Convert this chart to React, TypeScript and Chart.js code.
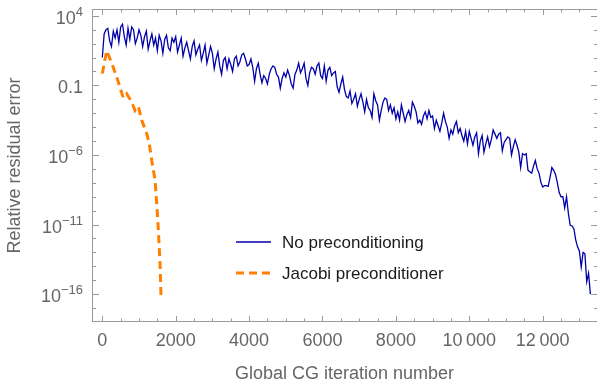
import React, { useEffect, useRef } from 'react';
import { Chart, registerables } from 'chart.js';

Chart.register(...registerables);

// ---------- data ----------
const ITER_STEP = 50; // iterations between stored samples of the unpreconditioned run

// log10 of relative residual error, no preconditioning (iterations 0, 50, 100, ... 13300)
const noPrecondLog10 = [
  1.0, 2.7, 3.0, 3.1, 2.2, 1.8, 2.9, 2.4, 3.0, 2.1, 3.2, 3.4, 2.5, 1.9, 3.1, 2.3, 3.2, 3.0, 2.0, 2.4,
  3.0, 2.6, 1.8, 2.5, 2.9, 1.6, 2.2, 2.7, 1.9, 2.4, 1.5, 2.6, 2.2, 1.3, 2.3, 2.6, 1.7, 1.5, 2.4, 2.1,
  2.5, 1.4, 1.9, 2.4, 1.1, 1.7, 2.1, 1.5, 0.9, 1.8, 2.2, 1.2, 1.6, 1.9, 0.8, 1.3, 1.9, 0.6, 1.2, 1.8,
  1.3, 0.2, 0.9, 1.4, 0.4, -0.2, 0.8, 1.0, 0.2, 0.9, 0.5, 0.0, 0.9, 1.1, 0.4, 0.7, 1.2, 1.3, 0.9, 0.4,
  0.5, 0.9, 0.3, -0.7, 0.2, 0.6, -0.2, -0.8, -0.3, -0.5, -0.9, -0.2, 0.2, 0.4, 0.3, -0.2, -0.4, -1.2, -0.5, -0.1,
  -0.4, 0.1, -0.3, -0.9, -1.2, -0.2, 0.1, 0.6, -0.1, 0.2, 0.6, -0.5, -1.0, -0.1, 0.3, 0.2, -0.2, 0.4, 0.6, -0.3,
  -0.5, 0.4, -0.7, 0.1, 0.3, -0.3, -0.1, 0.0, -1.1, -1.5, -0.9, -0.4, -1.3, -1.8, -1.9, -1.4, -2.3, -2.0, -1.6, -2.5,
  -2.0, -1.6, -2.2, -2.9, -2.0, -2.6, -2.8, -3.3, -1.6, -2.1, -2.4, -3.5, -2.8, -2.2, -1.9, -2.0, -2.8, -2.4, -3.0, -2.6,
  -3.4, -2.9, -3.5, -2.4, -3.0, -3.6, -3.1, -2.8, -3.3, -2.2, -2.5, -2.9, -3.7, -3.5, -3.8, -3.2, -2.9, -3.4, -2.8, -3.3,
  -3.2, -4.1, -3.5, -3.9, -4.3, -3.7, -3.0, -3.6, -4.0, -4.8, -4.2, -4.5, -3.9, -3.6, -4.4, -4.1, -4.6, -5.0, -4.3, -5.2,
  -4.3, -4.8, -5.3, -4.7, -4.4, -5.9, -5.0, -4.6, -5.8, -5.2, -4.7, -5.4, -4.9, -4.2, -4.5, -4.8, -4.5, -4.4, -5.7, -5.1,
  -4.9, -4.7, -4.8, -6.0, -5.4, -4.9, -5.3, -5.8, -6.9, -5.9, -6.0, -5.9, -7.1, -7.2, -7.3, -6.8, -6.4, -7.0, -7.3, -7.95,
  -8.3, -8.2, -8.2, -8.25, -7.6, -6.9, -7.1, -7.4, -8.0, -8.7, -9.0, -9.0, -9.8, -9.0, -10.2, -11.05, -11.1, -11.3, -12.1, -12.6,
  -12.9, -14.05, -13.0, -13.1, -15.1, -14.5, -16.0,
];

// Jacobi preconditioner run
const jacobiIter = [0, 120, 256, 393, 572, 665, 801, 891, 981, 1074, 1210, 1281, 1347, 1437, 1483, 1527, 1573, 1600];
const jacobiLog10 = [-0.15, 1.5, 0.6, -0.4, -1.9, -1.6, -2.2, -2.8, -2.5, -3.5, -4.45, -5.2, -6.4, -7.8, -9.5, -11.4, -13.8, -16.2];

const seriesLabels = ['No preconditioning', 'Jacobi preconditioner'];

const xMajorTicks = [0, 2000, 4000, 6000, 8000, 10000, 12000];
const xTickLabels = ['0', '2000', '4000', '6000', '8000', '10\u2009000', '12\u2009000'];
const xMinorStep = 500;
const xMinorLast = 13000;

const yTickExps = [4, 3, 2, 1, 0, -1, -2, -3, -4, -5, -6, -7, -8, -9, -10, -11, -12, -13, -14, -15, -16, -17];
const yLabeledExps = [4, -1, -6, -11, -16];
const yLabelBase = ['10', '0.1', '10', '10', '10'];
const yLabelSup = ['4', '', '\u22126', '\u221211', '\u221216'];

const xAxisTitle = 'Global CG iteration number';
const yAxisTitle = 'Relative residual error';

// ---------- styles ----------
const FONT = "'Liberation Sans', Arial, sans-serif";
const LABEL_COLOR = '#666666';
const FRAME_COLOR = '#9a9a9a';
const BLUE = '#0000aa';
const ORANGE = '#ff8000';

const frameTicksPlugin = {
  id: 'frameTicks',
  beforeDatasetsDraw(chart: any) {
    const { ctx, chartArea, scales } = chart;
    const { left, right, top, bottom } = chartArea;
    const xs = scales.x;
    const ys = scales.y;
    const frameRight = right + 1;
    ctx.save();
    ctx.strokeStyle = FRAME_COLOR;
    ctx.lineWidth = 1;
    ctx.beginPath();
    ctx.moveTo(left + 0.5, top);
    ctx.lineTo(left + 0.5, bottom);
    ctx.moveTo(left, bottom - 0.5);
    ctx.lineTo(frameRight, bottom - 0.5);
    ctx.moveTo(left, top + 0.5);
    ctx.lineTo(frameRight, top + 0.5);
    // x ticks
    for (let v = 0; v <= xMinorLast; v += xMinorStep) {
      const px = Math.round(xs.getPixelForValue(v)) + 0.5;
      const len = xMajorTicks.includes(v) ? 6 : 3.5;
      ctx.moveTo(px, bottom);
      ctx.lineTo(px, bottom - len);
      ctx.moveTo(px, top);
      ctx.lineTo(px, top + len);
    }
    // y ticks
    for (const e of yTickExps) {
      const py = Math.round(ys.getPixelForValue(Math.pow(10, e))) + 0.5;
      const len = yLabeledExps.includes(e) ? 7 : 4;
      ctx.moveTo(left, py);
      ctx.lineTo(left + len, py);
      ctx.moveTo(frameRight, py);
      ctx.lineTo(frameRight - len, py);
    }
    ctx.stroke();

    // y tick labels with superscript exponents
    const rightX = left - 9;
    ctx.fillStyle = LABEL_COLOR;
    ctx.textAlign = 'left';
    ctx.textBaseline = 'alphabetic';
    yLabeledExps.forEach((e, i) => {
      const py = ys.getPixelForValue(Math.pow(10, e));
      const baseline = py + 8;
      ctx.font = `13px ${FONT}`;
      const supW = yLabelSup[i] ? ctx.measureText(yLabelSup[i]).width : 0;
      ctx.font = `18px ${FONT}`;
      const baseW = ctx.measureText(yLabelBase[i]).width;
      const x0 = rightX - supW - baseW;
      ctx.fillText(yLabelBase[i], x0, baseline);
      if (yLabelSup[i]) {
        ctx.font = `13px ${FONT}`;
        ctx.fillText(yLabelSup[i], x0 + baseW, baseline - 8);
      }
    });
    ctx.restore();
  },
};

const insetLegendPlugin = {
  id: 'insetLegend',
  afterDatasetsDraw(chart: any) {
    const { ctx, chartArea } = chart;
    const x0 = chartArea.left + 144;
    const y0 = chartArea.top + 233;
    const rowGap = 31;
    ctx.save();
    chart.data.datasets.forEach((ds: any, i: number) => {
      const y = y0 + i * rowGap;
      ctx.beginPath();
      ctx.strokeStyle = ds.borderColor;
      ctx.lineWidth = ds.borderWidth;
      ctx.setLineDash(ds.borderDash || []);
      ctx.moveTo(x0, y);
      ctx.lineTo(x0 + 35, y);
      ctx.stroke();
      ctx.setLineDash([]);
      ctx.fillStyle = '#1a1a1a';
      ctx.font = `17px ${FONT}`;
      ctx.textBaseline = 'middle';
      ctx.textAlign = 'left';
      ctx.fillText(ds.label, x0 + 46, y + 1);
    });
    ctx.restore();
  },
};

export default function App() {
  const canvasRef = useRef<HTMLCanvasElement | null>(null);

  useEffect(() => {
    if (!canvasRef.current) return;
    const blueData = noPrecondLog10.map((v, i) => ({ x: i * ITER_STEP, y: Math.pow(10, v) }));
    const orangeData = jacobiIter.map((it, i) => ({ x: it, y: Math.pow(10, jacobiLog10[i]) }));

    const chart = new Chart(canvasRef.current, {
      type: 'line',
      data: {
        datasets: [
          {
            label: seriesLabels[0],
            data: blueData,
            borderColor: BLUE,
            borderWidth: 1.3,
            pointRadius: 0,
            fill: false,
            tension: 0,
          },
          {
            label: seriesLabels[1],
            data: orangeData,
            borderColor: ORANGE,
            borderWidth: 3,
            borderDash: [8, 5],
            pointRadius: 0,
            fill: false,
            tension: 0,
          },
        ],
      },
      options: {
        animation: false,
        responsive: false,
        devicePixelRatio: 1,
        parsing: false as any,
        normalized: true,
        layout: { padding: { top: 9, right: 0, left: 0, bottom: 0 } },
        plugins: {
          legend: { display: false },
          tooltip: { enabled: false },
        },
        scales: {
          x: {
            type: 'linear',
            min: -281,
            max: 13480,
            bounds: 'data',
            grid: { display: false, drawTicks: false },
            border: { display: false },
            afterBuildTicks: (s: any) => {
              s.ticks = xMajorTicks.map((v) => ({ value: v }));
            },
            ticks: {
              autoSkip: false,
              maxRotation: 0,
              padding: 8,
              color: LABEL_COLOR,
              font: { family: FONT, size: 18 },
              callback: (v: any) => {
                const k = xMajorTicks.indexOf(Number(v));
                return k >= 0 ? xTickLabels[k] : '';
              },
            },
            title: {
              display: true,
              text: xAxisTitle,
              color: LABEL_COLOR,
              font: { family: FONT, size: 18 },
              padding: { top: 0, bottom: 0 },
            },
            afterFit: (s: any) => {
              s.height = 63;
              s.paddingLeft = 0;
              s.paddingRight = 0;
              s.paddingTop = 0;
              s.paddingBottom = 0;
            },
          },
          y: {
            type: 'logarithmic',
            min: 1e-18,
            max: Math.pow(10, 4.49),
            bounds: 'data',
            grid: { display: false, drawTicks: false },
            border: { display: false },
            afterBuildTicks: (s: any) => {
              s.ticks = yTickExps.map((e) => ({ value: Math.pow(10, e) }));
            },
            ticks: { display: false },
            title: {
              display: true,
              text: yAxisTitle,
              color: LABEL_COLOR,
              font: { family: FONT, size: 18 },
              padding: { top: 4, bottom: 0 },
            },
            afterFit: (s: any) => {
              s.width = 92;
              s.paddingLeft = 0;
              s.paddingRight = 0;
              s.paddingTop = 0;
              s.paddingBottom = 0;
            },
          },
        },
      },
      plugins: [frameTicksPlugin, insetLegendPlugin],
    } as any);

    return () => chart.destroy();
  }, []);

  return (
    <div style={{ position: 'fixed', left: 0, top: 0, width: 597, height: 385, background: '#fff' }}>
      <canvas ref={canvasRef} width={597} height={385} />
    </div>
  );
}
